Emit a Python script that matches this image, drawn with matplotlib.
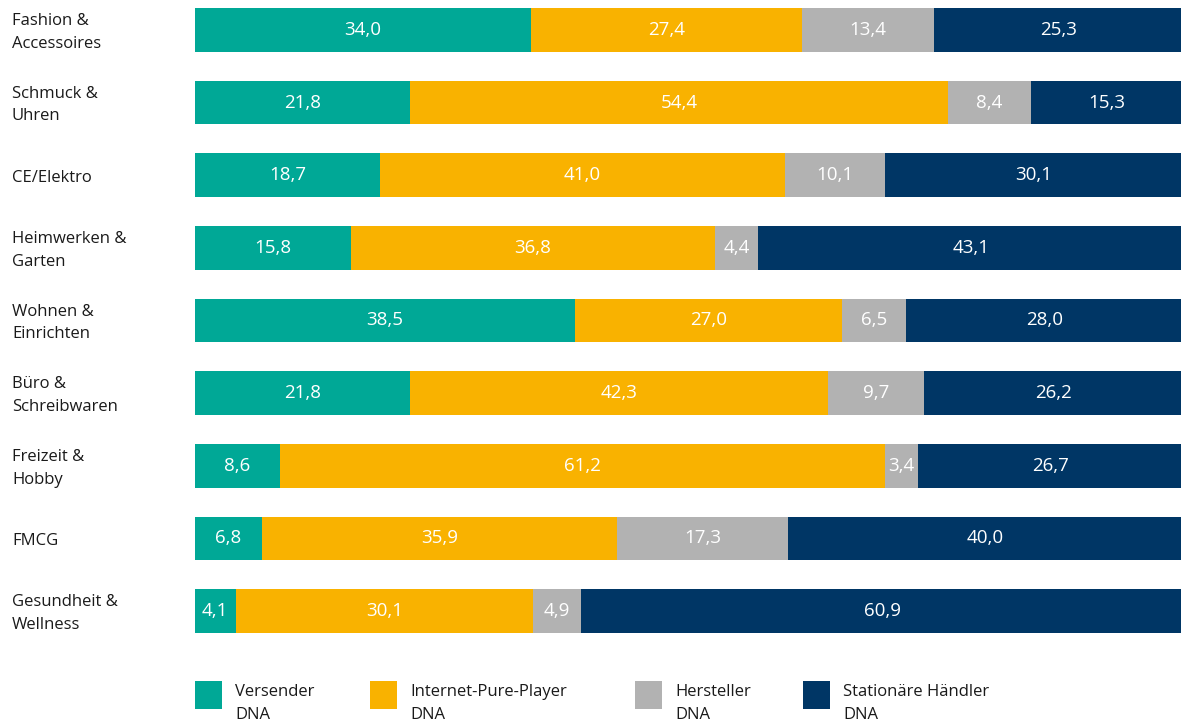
import matplotlib.pyplot as plt
import matplotlib.transforms as mtransforms
from matplotlib.patches import Rectangle
import numpy as np

plt.rcParams['font.family'] = ['Open Sans', 'DejaVu Sans']

categories = ["Fashion &\nAccessoires", "Schmuck &\nUhren", "CE/Elektro", "Heimwerken &\nGarten",
              "Wohnen &\nEinrichten", "Büro &\nSchreibwaren", "Freizeit &\nHobby", "FMCG",
              "Gesundheit &\nWellness"]
versender = [34.0, 21.8, 18.7, 15.8, 38.5, 21.8, 8.6, 6.8, 4.1]
pure_player = [27.4, 54.4, 41.0, 36.8, 27.0, 42.3, 61.2, 35.9, 30.1]
hersteller = [13.4, 8.4, 10.1, 4.4, 6.5, 9.7, 3.4, 17.3, 4.9]
stationaer = [25.3, 15.3, 30.1, 43.1, 28.0, 26.2, 26.7, 40.0, 60.9]
series_names = ["Versender\nDNA", "Internet-Pure-Player\nDNA", "Hersteller\nDNA", "Stationäre Händler\nDNA"]
colors = ["#00a896", "#f9b200", "#b2b2b2", "#003665"]

W, H = 1181, 722
fig = plt.figure(figsize=(W / 100, H / 100), dpi=100)
ax = fig.add_axes([195 / W, 1 - 650 / H, 1 - 195 / W, 650 / H])

y = np.arange(len(categories))
left = np.zeros(len(categories))
for vals, col in zip([versender, pure_player, hersteller, stationaer], colors):
    vals = np.array(vals)
    ax.barh(y, vals, left=left, height=0.6, color=col, edgecolor='none')
    for yi, l, v in zip(y, left, vals):
        ax.text(l + v / 2, yi, "{:.1f}".format(v).replace(".", ","), ha='center', va='center',
                color='white', fontsize=13.5)
    left += vals

ax.set_xlim(0, 99.8)
ax.set_ylim(8.537, -0.413)
ax.axis('off')

# category labels: x in figure coords, y in data coords (nudged down a little)
trans = mtransforms.blended_transform_factory(fig.transFigure, ax.transData) + \
    mtransforms.ScaledTranslation(0, -2.5 / 100, fig.dpi_scale_trans)
for yi, c in zip(y, categories):
    ax.text(12 / W, yi, c, transform=trans, ha='left', va='center',
            fontsize=12, color='#1a1a1a', linespacing=1.55)

patch_x = [195, 370, 635, 803]
for px, col, name in zip(patch_x, colors, series_names):
    fig.add_artist(Rectangle((px / W, 1 - 709 / H), 27 / W, 28 / H, transform=fig.transFigure,
                             color=col, lw=0))
    fig.text((px + 40) / W, 1 - 684 / H, name, ha='left', va='top', fontsize=12,
             color='#1a1a1a', linespacing=1.55)

fig.savefig("out.png", dpi=100)
